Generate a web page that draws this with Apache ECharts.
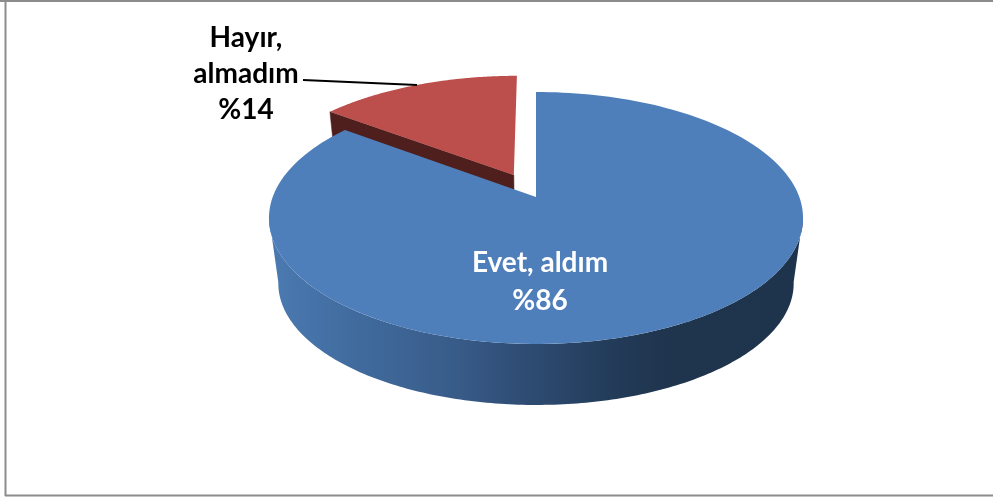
<!DOCTYPE html>
<html><head><meta charset="utf-8">
<style>html,body{margin:0;padding:0;background:#fff}#c{width:993px;height:497px}</style>
<script src="https://cdn.jsdelivr.net/npm/echarts@6/dist/echarts.min.js"></script>
</head><body><div id="c"></div>
<script>
const categories = ["Hayır, almadım", "Evet, aldım"];
const values = [14, 86];
const labels = ["Hayır,\nalmadım\n%14", "Evet, aldım\n%86"];

const view = {cx:536, cy:197, a:122.5, b:263.3, k:1/6, stretch:1.097,
              depthY:66.1, depthScale:0.965, explode:0.204};
const topFill = ["#bc4f4c", "#4f7fbb"];
const sideFill = ["#4f1f1e", null];
const labelPos = [[246,74],[540,282]];
const labelFill = ["#000000","#ffffff"];

function warp(t){return Math.atan2(view.stretch*Math.sin(t), Math.cos(t));}
function pt(u,v,lower){
  const w = 1 - view.k*v, s = lower ? view.depthScale : 1;
  return [view.cx + s*view.b*u/w, view.cy + (lower?view.depthY:0) + s*view.a*v/w];
}
function project(t, off, lower){
  return pt(Math.sin(t)+off[0], -Math.cos(t)+off[1], lower);
}
function arc(t0,t1,off,lower){
  const out=[], n=180;
  for(let i=0;i<=n;i++){ out.push(project(t0+(t1-t0)*i/n,off,lower)); }
  return out;
}
const total = values.reduce((s,v)=>s+v,0);
function renderItem(params, api){
  const i = params.dataIndex, val = api.value(0);
  const kids=[];
  const sweep = values[0]/total*2*Math.PI;
  const edge = warp(sweep);
  if(i===0){
    const mid = -(val/total*2*Math.PI)/2;
    const off = [Math.sin(mid)*view.explode, -Math.cos(mid)*view.explode];
    const rim = arc(-edge,0,off,false);
    const apex = pt(off[0],off[1],false), apexLow = pt(off[0],off[1],true);
    const corner = project(-edge,off,false), cornerLow = project(-edge,off,true);
    kids.push({type:'polygon',shape:{points:[corner,apex,apexLow,cornerLow]},style:{fill:sideFill[0],stroke:sideFill[0],lineWidth:0.5}});
    kids.push({type:'polygon',shape:{points:[...rim,apex]},style:{fill:topFill[0]}});
  } else {
    const start=-edge, end=-2*Math.PI;
    const rim = arc(start,end,[0,0],false);
    const front=[], back=[];
    for(let j=0;j<=360;j++){
      const t=start+(end-start)*j/360;
      const p=project(t,[0,0],false);
      if(p[1]>=216){front.push(p); back.unshift(project(t,[0,0],true));}
    }
    const wall=new echarts.graphic.LinearGradient(277,0,795,0,[
      {offset:0,color:"#4a79b0"},{offset:0.14,color:"#416c9f"},{offset:0.33,color:"#395d8b"},
      {offset:0.5,color:"#2d4a70"},{offset:0.64,color:"#233c5a"},{offset:0.76,color:"#1f344d"},
      {offset:1,color:"#1e334c"}],true);
    kids.push({type:'polygon',shape:{points:[...front,...back]},style:{fill:wall}});
    kids.push({type:'polygon',shape:{points:[...rim,[view.cx,view.cy]]},style:{fill:topFill[1]}});
  }
  kids.push({type:'text',z2:10,style:{text:labels[i],x:labelPos[i][0],y:labelPos[i][1],
    fill:labelFill[i],align:'center',verticalAlign:'middle',
    font:'bold 28px Lato, sans-serif',lineHeight:i===0?36:38}});
  return {type:'group',children:kids};
}
const chart = echarts.init(document.getElementById('c'),null,{renderer:'canvas'});
chart.setOption({
  animation:false, backgroundColor:'#ffffff',
  graphic:[
    {type:'line',silent:true,shape:{x1:0,y1:1,x2:993,y2:1},style:{stroke:'#8c8c8c',lineWidth:2}},
    {type:'line',silent:true,shape:{x1:5.5,y1:0,x2:5.5,y2:496},style:{stroke:'#8c8c8c',lineWidth:2}},
    {type:'line',silent:true,shape:{x1:5,y1:495.5,x2:993,y2:495.5},style:{stroke:'#8c8c8c',lineWidth:2}},
    {type:'line',silent:true,z:20,shape:{x1:303,y1:80,x2:417,y2:85},style:{stroke:'#000000',lineWidth:2}}
  ],
  series:[{type:'custom',coordinateSystem:'none',renderItem,clip:false,silent:true,
    data:categories.map((n,i)=>({name:n,value:[values[i]]}))}]
});
</script></body></html>
